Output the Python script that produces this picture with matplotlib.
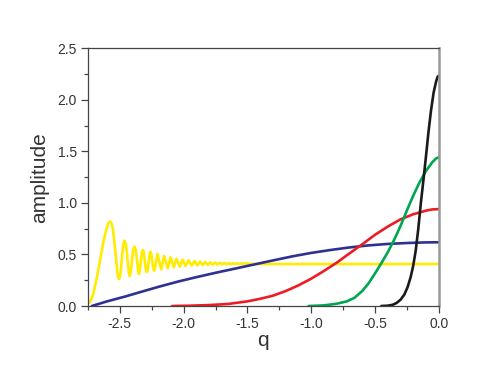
import matplotlib
matplotlib.use("Agg")
import matplotlib.pyplot as plt
from matplotlib.ticker import MultipleLocator, FormatStrFormatter

plt.rcParams["font.family"] = ["Liberation Sans", "DejaVu Sans"]

# curves (q, amplitude)
yellow_q = [-2.75, -2.73, -2.71, -2.687, -2.66, -2.634, -2.615, -2.6, -2.588, -2.577,
            -2.566, -2.555, -2.543, -2.53, -2.52, -2.513, -2.505, -2.497, -2.487, -2.477,
            -2.465, -2.455, -2.445, -2.435, -2.425, -2.417, -2.407, -2.396, -2.386, -2.376,
            -2.365, -2.356, -2.351, -2.345, -2.335, -2.326, -2.32, -2.313, -2.304, -2.295,
            -2.289, -2.283, -2.274, -2.266, -2.260, -2.254, -2.245, -2.236, -2.229,
            -2.205, -2.176, -2.153, -2.124, -2.103, -2.077, -2.056, -2.030,
            -2.009, -1.985, -1.961, -1.937, -1.914, -1.892, -1.870, -1.850, -1.830, -1.810,
            -1.791, -1.772, -1.753, -1.734, -1.716, -1.698, -1.680, -1.662, -1.645, -1.628,
            -1.611, -1.594, -1.578, -1.562, -1.546, -1.530, -1.515, -1.500, -1.485, -1.45, 0.0]
yellow_a = [0.02, 0.05, 0.11, 0.236, 0.41, 0.59, 0.70, 0.77, 0.808, 0.819,
            0.805, 0.75, 0.62, 0.46, 0.33, 0.275, 0.262, 0.30, 0.42, 0.56,
            0.634, 0.61, 0.52, 0.38, 0.291, 0.31, 0.42, 0.54, 0.576, 0.55,
            0.44, 0.33, 0.311, 0.33, 0.44, 0.53, 0.544, 0.52, 0.43, 0.345,
            0.330, 0.345, 0.43, 0.51, 0.527, 0.51, 0.43, 0.355, 0.343,
            0.505, 0.356, 0.485, 0.366, 0.472, 0.376, 0.459, 0.382,
            0.450, 0.388, 0.443, 0.392, 0.437, 0.395, 0.430, 0.397, 0.427, 0.399,
            0.424, 0.401, 0.422, 0.403, 0.420, 0.404, 0.418, 0.405, 0.416, 0.406,
            0.415, 0.407, 0.414, 0.408, 0.413, 0.409, 0.412, 0.41, 0.411, 0.407, 0.407]

blue_q = [-2.72, -2.6, -2.45, -2.34, -2.2, -2.05, -1.9, -1.75, -1.6, -1.45, -1.3,
          -1.15, -1.0, -0.85, -0.7, -0.55, -0.4, -0.25, -0.1, 0.0]
blue_a = [0.0, 0.045, 0.095, 0.135, 0.185, 0.235, 0.28, 0.322, 0.362, 0.402, 0.442,
          0.481, 0.515, 0.543, 0.568, 0.588, 0.602, 0.611, 0.617, 0.618]

red_q = [-2.09, -1.95, -1.8, -1.65, -1.5, -1.4, -1.3, -1.2, -1.1, -1.0, -0.9, -0.8,
         -0.7, -0.6, -0.5, -0.4, -0.3, -0.2, -0.1, -0.05, 0.0]
red_a = [0.0, 0.003, 0.009, 0.02, 0.045, 0.07, 0.10, 0.145, 0.20, 0.265, 0.34, 0.42,
         0.51, 0.598, 0.69, 0.77, 0.84, 0.89, 0.925, 0.937, 0.94]

green_q = [-1.02, -0.9, -0.8, -0.72, -0.66, -0.6, -0.55, -0.5, -0.45, -0.4, -0.35,
           -0.3, -0.25, -0.2, -0.15, -0.1, -0.05, -0.02, 0.0]
green_a = [0.0, 0.006, 0.022, 0.045, 0.08, 0.145, 0.22, 0.315, 0.415, 0.52, 0.64,
           0.775, 0.925, 1.07, 1.2, 1.31, 1.395, 1.432, 1.442]

black_q = [-0.45, -0.4, -0.36, -0.33, -0.3, -0.27, -0.245, -0.22, -0.2, -0.18, -0.16,
           -0.148, -0.14, -0.12, -0.1, -0.08, -0.06, -0.04, -0.02, -0.008, 0.0]
black_a = [0.0, 0.003, 0.012, 0.03, 0.06, 0.11, 0.18, 0.28, 0.39, 0.54, 0.75,
           0.9, 1.0, 1.22, 1.45, 1.69, 1.9, 2.07, 2.18, 2.225, 2.232]

fig = plt.figure(figsize=(4.91, 3.79), dpi=100)
ax = fig.add_axes([0.1792, 0.1926, 0.7143, 0.68])

lw = 1.9
style = dict(lw=lw, solid_joinstyle="round", solid_capstyle="round")
ax.plot(yellow_q, yellow_a, color="#ffec00", **style)
ax.plot(blue_q, blue_a, color="#2e3192", **style)
ax.plot(red_q, red_a, color="#ed1c24", **style)
ax.plot(green_q, green_a, color="#00a651", **style)
ax.plot(black_q, black_a, color="#1a1a1a", **style)

ax.set_xlim(-2.75, 0.0)
ax.set_ylim(0, 2.5)
ax.xaxis.set_major_locator(MultipleLocator(0.5))
ax.xaxis.set_minor_locator(MultipleLocator(0.25))
ax.yaxis.set_major_locator(MultipleLocator(0.5))
ax.yaxis.set_minor_locator(MultipleLocator(0.25))
ax.xaxis.set_major_formatter(FormatStrFormatter("%.1f"))
ax.yaxis.set_major_formatter(FormatStrFormatter("%.1f"))

ax.tick_params(which="both", direction="out", colors="#444444", labelcolor="#333333",
               labelsize=10, width=0.9, top=False, right=False)
ax.tick_params(which="major", length=5, pad=3)
ax.tick_params(which="minor", length=3)

for side in ["left", "bottom", "top"]:
    ax.spines[side].set_color("#444444")
    ax.spines[side].set_linewidth(0.9)
ax.spines["right"].set_color("#999999")
ax.spines["right"].set_linewidth(1.8)

ax.set_xlabel("q", fontsize=15, color="#333333", labelpad=0)
ax.set_ylabel("amplitude", fontsize=15, color="#333333", labelpad=6)

fig.savefig("out.png", dpi=100)
